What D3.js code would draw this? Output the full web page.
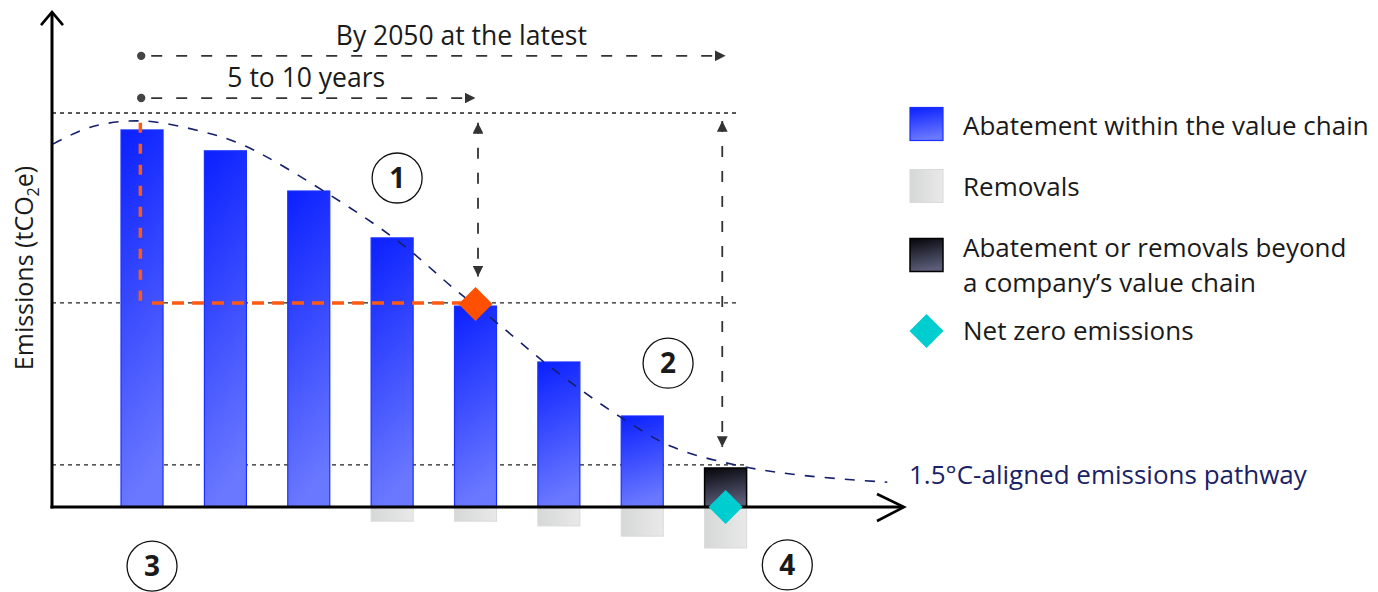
<!DOCTYPE html>
<html>
<head>
<meta charset="utf-8">
<script src="https://cdn.jsdelivr.net/npm/d3@7"></script>
<style>
  html, body { margin: 0; padding: 0; background: #fff; }
  svg { display: block; }
  text { font-family: "Open Sans", "Lato", sans-serif; fill: #1a1a1a; }
</style>
</head>
<body>
<svg id="chart" width="1378" height="592"></svg>
<script>
// ---------------- DATA ----------------
const periods      = [0, 1, 2, 3, 4, 5, 6, 7];
const abatement    = [95.7, 90.4, 80.2, 68.3, 51.0, 36.8, 23.1, 0];
const removals     = [0, 0, 0, 3.6, 3.6, 4.8, 7.4, 10.4];
const beyondChain  = [0, 0, 0, 0, 0, 0, 0, 9.9];
const pathwayX     = [-1.07, -0.62, -0.02, 0.70, 1.24, 2.29, 3.10, 3.76, 4.26, 4.90, 5.74, 6.37, 7.18, 7.98, 8.94];
const pathwayY     = [92.1, 96.4, 98.0, 95.4, 91.6, 78.7, 67.0, 55.1, 46.7, 35.5, 22.8, 15.2, 10.4, 7.9, 6.3];
const guideLevels  = [100, 51.8, 10.7];
const guideEnds    = [7.14, 7.14, 7.24];
const milestone    = { period: 4, value: 51.8 };
const netZero      = { period: 7, value: 0 };
const legendLabels = [["Abatement within the value chain"], ["Removals"],
                      ["Abatement or removals beyond", "a company\u2019s value chain"], ["Net zero emissions"]];
const circledNums  = [{ n: "1", p: 3.06, v: 83.5 }, { n: "2", p: 6.31, v: 36.5 },
                      { n: "3", p: 0.12, v: -15 }, { n: "4", p: 7.74, v: -14.7 }];

// ---------------- SCALES ----------------
const svg = d3.select("#chart");
const x = d3.scaleLinear().domain([-1.08, 9.14]).range([52, 904]);
const y = d3.scaleLinear().domain([0, 100]).range([507, 113]);
const yTop = 125.6;
const barW = x(0.504) - x(0);

// ---------------- DEFS ----------------
const defs = svg.append("defs");
function lg(id, x2, y2, stops) {
  const g = defs.append("linearGradient").attr("id", id)
    .attr("x1", 0).attr("y1", 0).attr("x2", x2).attr("y2", y2);
  stops.forEach(s => g.append("stop").attr("offset", s[0]).attr("stop-color", s[1]));
}
lg("gBlue", 0.15, 1, [[0, "#0a20ff"], [1, "#6a78ff"]]);
lg("gGray", 1, 0, [[0, "#d6d7d7"], [1, "#e9e9e9"]]);
lg("gBlack", 0.2, 1, [[0, "#05050a"], [1, "#5a5c78"]]);
function arrowMarker(id, color) {
  defs.append("marker").attr("id", id).attr("viewBox", "0 0 10 10")
    .attr("refX", 10).attr("refY", 5).attr("markerWidth", 6).attr("markerHeight", 6)
    .attr("markerUnits", "strokeWidth").attr("orient", "auto-start-reverse")
    .append("path").attr("d", "M0,0 L10,5 L0,10 Z").attr("fill", color);
}
arrowMarker("arr", "#333");

// ---------------- GUIDE LINES ----------------
svg.append("g").selectAll("line").data(guideLevels).join("line")
  .attr("x1", x(-1.08)).attr("x2", (d, i) => x(guideEnds[i]))
  .attr("y1", d => y(d)).attr("y2", d => y(d))
  .attr("stroke", "#222").attr("stroke-width", 1.3).attr("stroke-dasharray", "4,4");

// ---------------- BARS ----------------
const gb = svg.append("g");
gb.selectAll("rect.rem").data(periods.filter(i => removals[i] > 0)).join("rect")
  .attr("x", i => x(i) - barW / 2).attr("width", barW)
  .attr("y", y(0)).attr("height", i => y(-removals[i]) - y(0))
  .attr("fill", "url(#gGray)").attr("stroke", "#dadada").attr("stroke-width", 1);
gb.selectAll("rect.ab").data(periods.filter(i => abatement[i] > 0)).join("rect")
  .attr("x", i => x(i) - barW / 2).attr("width", barW)
  .attr("y", i => y(abatement[i])).attr("height", i => y(0) - y(abatement[i]))
  .attr("fill", "url(#gBlue)").attr("stroke", "#1a30ff").attr("stroke-width", 1.2);
gb.selectAll("rect.bey").data(periods.filter(i => beyondChain[i] > 0)).join("rect")
  .attr("x", i => x(i) - barW / 2).attr("width", barW)
  .attr("y", i => y(beyondChain[i])).attr("height", i => y(0) - y(beyondChain[i]))
  .attr("fill", "url(#gBlack)").attr("stroke", "#000").attr("stroke-width", 1.5);

// ---------------- PATHWAY ----------------
const pathPts = pathwayX.map((p, i) => [x(p), y(pathwayY[i])]);
svg.append("path").attr("d", d3.line().curve(d3.curveCatmullRom)(pathPts))
  .attr("fill", "none").attr("stroke", "#14206e").attr("stroke-width", 1.6)
  .attr("stroke-dasharray", "10,10");
svg.append("text").attr("x", x(9.2)).attr("y", y(5.8))
  .attr("font-size", 26).style("fill", "#1a2266")
  .text("1.5\u00B0C-aligned emissions pathway");

// ---------------- ORANGE MILESTONE ----------------
svg.append("line").attr("x1", x(-0.02)).attr("x2", x(-0.02))
  .attr("y1", y(97.5)).attr("y2", y(milestone.value))
  .attr("stroke", "#ff5a14").attr("stroke-width", 3.5).attr("stroke-dasharray", "10,11");
svg.append("line").attr("x1", x(0.12)).attr("x2", x(milestone.period - 0.1))
  .attr("y1", y(milestone.value)).attr("y2", y(milestone.value))
  .attr("stroke", "#ff5a14").attr("stroke-width", 3.5).attr("stroke-dasharray", "12,8");
const dia = d3.symbol().type(d3.symbolSquare).size(580);
svg.append("path").attr("d", dia())
  .attr("transform", `translate(${x(milestone.period)},${y(milestone.value) + 1}) rotate(45)`)
  .attr("fill", "#ff5000");

// ---------------- AXES ----------------
const ax = svg.append("g").attr("stroke", "#000").attr("stroke-width", 3).attr("fill", "none");
ax.append("line").attr("x1", x(-1.08)).attr("x2", x(-1.08)).attr("y1", y(0) + 1.5).attr("y2", y(yTop));
ax.append("line").attr("x1", x(-1.08) - 1.5).attr("x2", x(9.14) - 1).attr("y1", y(0)).attr("y2", y(0));
ax.append("path").attr("stroke-width", 2.6)
  .attr("d", `M${x(-1.08) - 11},${y(yTop) + 13} L${x(-1.08)},${y(yTop)} L${x(-1.08) + 11},${y(yTop) + 13}`);
ax.append("path").attr("stroke-width", 2.6)
  .attr("d", `M${x(9.14) - 27},${y(0) - 13} L${x(9.14)},${y(0)} L${x(9.14) - 27},${y(0) + 14}`);

// net zero diamond (on top of axis)
svg.append("path").attr("d", dia())
  .attr("transform", `translate(${x(netZero.period)},${y(netZero.value)}) rotate(45)`)
  .attr("fill", "#00cdd0");

// y label
svg.append("text").attr("transform", `translate(33,${(160 + 376) / 2}) rotate(-90)`)
  .attr("text-anchor", "middle").attr("font-size", 25)
  .call(t => {
    t.append("tspan").text("Emissions (tCO");
    t.append("tspan").attr("font-size", 16).attr("dy", 6).text("2");
    t.append("tspan").attr("dy", -6).text("e)");
  });

// ---------------- TIMELINE ARROWS ----------------
const ta = svg.append("g").attr("stroke", "#333").attr("stroke-width", 1.8).attr("fill", "none");
const hArrows = [{ from: -0.01, to: 7.0, v: 114.5, label: "By 2050 at the latest", lx: 3.83, lv: 117.2 },
                 { from: -0.01, to: 4.0, v: 103.8, label: "5 to 10 years", lx: 1.97, lv: 106.6 }];
hArrows.forEach(a => {
  ta.append("line").attr("x1", x(a.from) + 10).attr("x2", x(a.to))
    .attr("y1", y(a.v)).attr("y2", y(a.v))
    .attr("stroke-dasharray", "11,14").attr("marker-end", "url(#arr)");
  svg.append("circle").attr("cx", x(a.from)).attr("cy", y(a.v)).attr("r", 4.2).attr("fill", "#444");
  svg.append("text").attr("x", x(a.lx)).attr("y", y(a.lv)).attr("text-anchor", "middle")
    .attr("font-size", 26.5).text(a.label);
});
const vArrows = [{ p: 4.03, top: 97.5, bot: 58.5 }, { p: 6.96, top: 98.0, bot: 15.2 }];
vArrows.forEach(a => {
  ta.append("line").attr("x1", x(a.p)).attr("x2", x(a.p))
    .attr("y1", y(a.top)).attr("y2", y(a.bot))
    .attr("stroke-dasharray", "11,14")
    .attr("marker-start", "url(#arr)").attr("marker-end", "url(#arr)");
});

// ---------------- CIRCLED NUMBERS ----------------
const cn = svg.append("g").selectAll("g").data(circledNums).join("g")
  .attr("transform", d => `translate(${x(d.p)},${y(d.v)})`);
cn.append("circle").attr("r", 25).attr("fill", "#fff").attr("stroke", "#111").attr("stroke-width", 1.3);
cn.append("text").attr("text-anchor", "middle").attr("dy", "0.36em")
  .attr("font-size", 28).attr("font-weight", 700).text(d => d.n);

// ---------------- LEGEND ----------------
const lgY = [124, 186, 255, 331];
const leg = svg.append("g");
const sw = 33;
leg.append("rect").attr("x", 910).attr("y", lgY[0] - sw / 2).attr("width", sw).attr("height", sw)
  .attr("fill", "url(#gBlue)").attr("stroke", "#1a30ff").attr("stroke-width", 1.2);
leg.append("rect").attr("x", 910).attr("y", lgY[1] - sw / 2).attr("width", sw).attr("height", sw)
  .attr("fill", "url(#gGray)").attr("stroke", "#dadada").attr("stroke-width", 1);
leg.append("rect").attr("x", 910).attr("y", lgY[2] - sw / 2).attr("width", sw).attr("height", sw)
  .attr("fill", "url(#gBlack)").attr("stroke", "#000").attr("stroke-width", 1.5);
leg.append("path").attr("d", dia()).attr("transform", `translate(926.5,${lgY[3]}) rotate(45)`)
  .attr("fill", "#00cdd0");
const txtBase = [135, 196, 257, 340];
legendLabels.forEach((lines, i) => {
  lines.forEach((s, j) => {
    leg.append("text").attr("x", 963).attr("y", txtBase[i] + j * 35).attr("font-size", 26).text(s);
  });
});
</script>
</body>
</html>
